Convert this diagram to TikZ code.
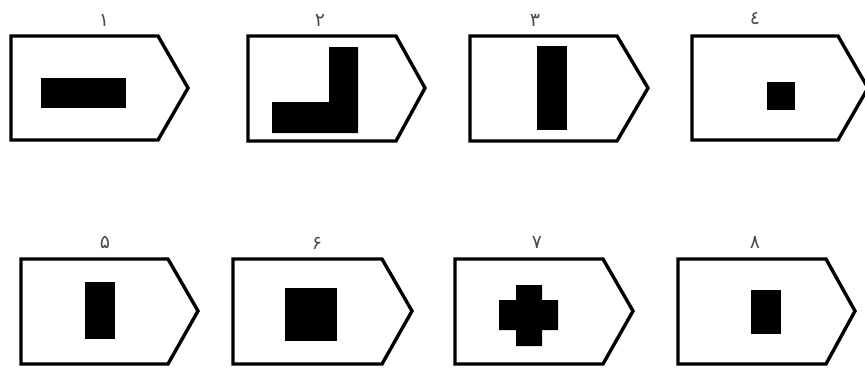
\documentclass[tikz,border=0pt]{standalone}
\usepackage{fontspec}
\usepackage{tikz}
\newfontfamily\arabicfont[Script=Arabic]{DejaVu Sans}

\begin{document}
\begin{tikzpicture}[x=1pt, y=-1pt,
    tag/.style={line width=3.4pt, line join=miter},
    blob/.style={fill=black},
    num/.style={font=\arabicfont\fontsize{19}{19}\selectfont, text=black!70, inner sep=0pt}]

    \useasboundingbox (0,0) rectangle (865,367);

    % Top row of tags
    \draw[tag] (11,36) -- (158,36) -- (188,88) -- (158,140) -- (11,140) -- cycle;
    \draw[tag] (248,36) -- (396,36) -- (425,88) -- (396,141) -- (248,141) -- cycle;
    \draw[tag] (470,36) -- (617,36) -- (648,88) -- (617,141) -- (470,141) -- cycle;
    \draw[tag] (692,36) -- (838,36) -- (868,88) -- (838,140) -- (692,140) -- cycle;

    % Bottom row of tags
    \draw[tag] (21,259) -- (168,259) -- (198,311) -- (168,364) -- (21,364) -- cycle;
    \draw[tag] (233,259) -- (382,259) -- (412,311) -- (382,364) -- (233,364) -- cycle;
    \draw[tag] (455,259) -- (603,259) -- (633,311) -- (603,364) -- (455,364) -- cycle;
    \draw[tag] (678,259) -- (826,259) -- (855,311) -- (826,364) -- (678,364) -- cycle;

    % Black marks inside the tags
    \fill[blob] (41,78) rectangle (126,108);
    \fill[blob] (329,47) -- (358,47) -- (358,133) -- (272,133) -- (272,102) -- (329,102) -- cycle;
    \fill[blob] (537,46) rectangle (567,130);
    \fill[blob] (767,82) rectangle (795,110);
    \fill[blob] (85,282) rectangle (115,339);
    \fill[blob] (285,288) rectangle (337,341);
    \fill[blob] (516,285) -- (542,285) -- (542,300) -- (558,300) -- (558,330) -- (542,330)
        -- (542,346) -- (516,346) -- (516,330) -- (499,330) -- (499,300) -- (516,300) -- cycle;
    \fill[blob] (751,290) rectangle (781,334);

    % Numbers above the tags
    \node[num] (lbl1) at (104,20) {١};
    \node[num] (lbl2) at (320,20) {٢};
    \node[num] (lbl3) at (535,20) {٣};
    \node[num] (lbl4) at (755,19) {٤};
    \node[num] (lbl5) at (105,242) {۵};
    \node[num] (lbl6) at (317,243) {۶};
    \node[num] (lbl7) at (537,242) {٧};
    \node[num] (lbl8) at (755,242) {٨};

\end{tikzpicture}
\end{document}
